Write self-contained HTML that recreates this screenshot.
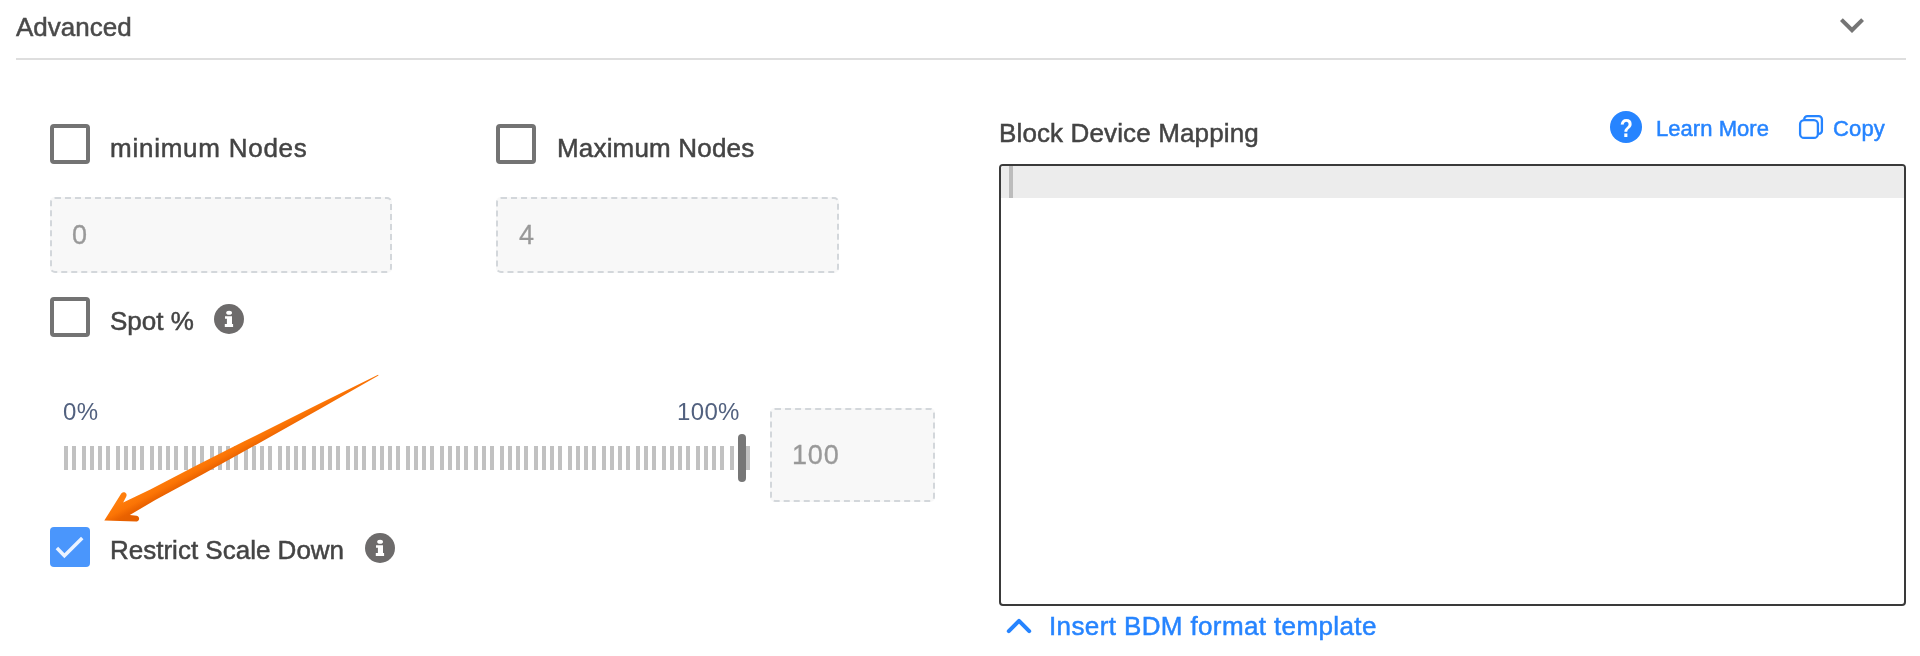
<!DOCTYPE html>
<html><head><meta charset="utf-8"><title>Advanced</title>
<style>
html,body{margin:0;padding:0;background:#fff;}
body{width:1920px;height:656px;position:relative;overflow:hidden;font-family:"Liberation Sans",sans-serif;color:#444;}
.t{position:absolute;white-space:nowrap;line-height:1;transform-origin:0 0;will-change:transform;}
.lbl{font-size:26px;color:#444;-webkit-text-stroke:0.5px #444;}
.cb{position:absolute;width:32px;height:32px;border:4px solid #737373;border-radius:4px;background:#fff;}
.inp{position:absolute;box-sizing:border-box;border:2px dashed #d3d7db;border-radius:5px;background:#f8f8f8;}
.num{font-size:27px;color:#999;-webkit-text-stroke:0.3px #999;}
.rng{font-size:24px;color:#52617f;}
.lnk{color:#2684ff;-webkit-text-stroke:0.5px #2684ff;}
svg{position:absolute;overflow:visible;}
</style></head><body>

<div class="t" id="t_adv" style="left:16px;top:14px;font-size:26px;color:#4a4a4a;-webkit-text-stroke:0.5px #4a4a4a;">Advanced</div>
<svg style="left:1828px;top:0.5px" width="48" height="48" viewBox="0 0 24 24"><path d="M16.59 8.59 12 13.17 7.41 8.59 6 10l6 6 6-6z" fill="#757575"/></svg>
<div style="position:absolute;left:16px;top:58px;width:1890px;height:2px;background:#dedede;"></div>

<div class="cb" style="left:50px;top:124px;"></div>
<div class="t lbl" id="t_min" style="left:110px;top:135px;letter-spacing:0.75px;">minimum Nodes</div>
<div class="cb" style="left:496px;top:124px;"></div>
<div class="t lbl" id="t_max" style="left:557px;top:135px;letter-spacing:0.18px;">Maximum Nodes</div>

<div class="inp" style="left:50px;top:197px;width:342px;height:76px;"></div>
<div class="t num" id="t_n0" style="left:72px;top:221.600px;">0</div>
<div class="inp" style="left:496px;top:197px;width:343px;height:76px;"></div>
<div class="t num" id="t_n4" style="left:519px;top:221.700px;">4</div>

<div class="cb" style="left:50px;top:297px;"></div>
<div class="t lbl" id="t_spot" style="left:110px;top:308px;">Spot %</div>
<svg style="left:214px;top:304px" width="30" height="30" viewBox="0 0 30 30"><circle cx="15" cy="15" r="15" fill="#6d6b6b"/><ellipse cx="15.1" cy="8.7" rx="2.900" ry="2" fill="#fff"/><path d="M11 12.200H18V19.900H19.100V23.100H10.800V19.900H12.900V14.800H11z" fill="#fff"/></svg>

<div class="t rng" id="t_r0" style="left:62.500px;top:400px;letter-spacing:0.3px;">0%</div>
<div class="t rng" id="t_r100" style="left:677px;top:400px;letter-spacing:0.35px;">100%</div>
<svg style="left:64px;top:446px" width="690" height="24" fill="#c1c1c1"><rect x="0" y="0" width="4" height="24"/><rect x="8" y="0" width="4" height="24"/><rect x="18" y="0" width="4" height="24"/><rect x="26" y="0" width="4" height="24"/><rect x="34" y="0" width="4" height="24"/><rect x="42" y="0" width="4" height="24"/><rect x="52" y="0" width="4" height="24"/><rect x="60" y="0" width="4" height="24"/><rect x="68" y="0" width="4" height="24"/><rect x="76" y="0" width="4" height="24"/><rect x="86" y="0" width="4" height="24"/><rect x="94" y="0" width="4" height="24"/><rect x="102" y="0" width="4" height="24"/><rect x="110" y="0" width="4" height="24"/><rect x="120" y="0" width="4" height="24"/><rect x="128" y="0" width="4" height="24"/><rect x="136" y="0" width="4" height="24"/><rect x="146" y="0" width="4" height="24"/><rect x="154" y="0" width="4" height="24"/><rect x="162" y="0" width="4" height="24"/><rect x="170" y="0" width="4" height="24"/><rect x="180" y="0" width="4" height="24"/><rect x="188" y="0" width="4" height="24"/><rect x="196" y="0" width="4" height="24"/><rect x="204" y="0" width="4" height="24"/><rect x="214" y="0" width="4" height="24"/><rect x="222" y="0" width="4" height="24"/><rect x="230" y="0" width="4" height="24"/><rect x="238" y="0" width="4" height="24"/><rect x="248" y="0" width="4" height="24"/><rect x="256" y="0" width="4" height="24"/><rect x="264" y="0" width="4" height="24"/><rect x="272" y="0" width="4" height="24"/><rect x="282" y="0" width="4" height="24"/><rect x="290" y="0" width="4" height="24"/><rect x="298" y="0" width="4" height="24"/><rect x="308" y="0" width="4" height="24"/><rect x="316" y="0" width="4" height="24"/><rect x="324" y="0" width="4" height="24"/><rect x="332" y="0" width="4" height="24"/><rect x="342" y="0" width="4" height="24"/><rect x="350" y="0" width="4" height="24"/><rect x="358" y="0" width="4" height="24"/><rect x="366" y="0" width="4" height="24"/><rect x="376" y="0" width="4" height="24"/><rect x="384" y="0" width="4" height="24"/><rect x="392" y="0" width="4" height="24"/><rect x="400" y="0" width="4" height="24"/><rect x="410" y="0" width="4" height="24"/><rect x="418" y="0" width="4" height="24"/><rect x="426" y="0" width="4" height="24"/><rect x="436" y="0" width="4" height="24"/><rect x="444" y="0" width="4" height="24"/><rect x="452" y="0" width="4" height="24"/><rect x="460" y="0" width="4" height="24"/><rect x="470" y="0" width="4" height="24"/><rect x="478" y="0" width="4" height="24"/><rect x="486" y="0" width="4" height="24"/><rect x="494" y="0" width="4" height="24"/><rect x="504" y="0" width="4" height="24"/><rect x="512" y="0" width="4" height="24"/><rect x="520" y="0" width="4" height="24"/><rect x="528" y="0" width="4" height="24"/><rect x="538" y="0" width="4" height="24"/><rect x="546" y="0" width="4" height="24"/><rect x="554" y="0" width="4" height="24"/><rect x="562" y="0" width="4" height="24"/><rect x="572" y="0" width="4" height="24"/><rect x="580" y="0" width="4" height="24"/><rect x="588" y="0" width="4" height="24"/><rect x="598" y="0" width="4" height="24"/><rect x="606" y="0" width="4" height="24"/><rect x="614" y="0" width="4" height="24"/><rect x="622" y="0" width="4" height="24"/><rect x="632" y="0" width="4" height="24"/><rect x="640" y="0" width="4" height="24"/><rect x="648" y="0" width="4" height="24"/><rect x="656" y="0" width="4" height="24"/><rect x="666" y="0" width="4" height="24"/><rect x="674" y="0" width="4" height="24"/><rect x="682" y="0" width="4" height="24"/></svg>
<div style="position:absolute;left:738px;top:434px;width:8px;height:48px;border-radius:4px;background:#777;"></div>
<div class="inp" style="left:770px;top:408px;width:165px;height:94px;"></div>
<div class="t num" id="t_n100" style="left:791.5px;top:441.600px;letter-spacing:0.8px;">100</div>

<div style="position:absolute;left:50px;top:527px;width:40px;height:40px;border-radius:4px;background:#4a96fc;"></div>
<svg style="left:50px;top:527px" width="40" height="40" viewBox="0 0 40 40"><path d="M6.900 21 14.400 28.800 32.250 10.900" fill="none" stroke="#ebf3ff" stroke-width="3.500"/></svg>
<div class="t lbl" id="t_rsd" style="left:110px;top:537px;">Restrict Scale Down</div>
<svg style="left:365px;top:533px" width="30" height="30" viewBox="0 0 30 30"><circle cx="15" cy="15" r="15" fill="#6d6b6b"/><ellipse cx="15.1" cy="8.7" rx="2.900" ry="2" fill="#fff"/><path d="M11 12.200H18V19.900H19.100V23.100H10.800V19.900H12.900V14.800H11z" fill="#fff"/></svg>

<svg style="left:0;top:0" width="1920" height="656"><defs><linearGradient id="ag" gradientUnits="userSpaceOnUse" x1="241.6" y1="437.5" x2="250.0" y2="453.4"><stop offset="0" stop-color="#ff7e0c"/><stop offset="0.45" stop-color="#fb7405"/><stop offset="0.8" stop-color="#ea6200"/><stop offset="1" stop-color="#e66000"/></linearGradient></defs><path d="M378.11 374.85 L318.84 403.96 L243.72 441.59 L197.33 465.11 L150.32 489.59 L123.19 502.45 L126.28 496.43 L126.56 495.59 L126.58 494.71 L126.33 493.86 L125.83 493.13 L125.14 492.58 L124.32 492.27 L123.43 492.21 L122.58 492.43 L121.83 492.89 L121.25 493.56 L104.30 520.50 L136.11 521.59 L136.99 521.48 L137.79 521.12 L138.45 520.53 L138.90 519.77 L139.10 518.91 L139.04 518.03 L138.71 517.21 L138.15 516.53 L137.41 516.05 L136.56 515.81 L129.84 514.99 L155.71 499.75 L202.35 474.56 L247.84 449.36 L321.14 408.29 L378.49 375.55 Z" fill="url(#ag)"/></svg>

<div class="t lbl" id="t_bdm" style="left:999px;top:120px;letter-spacing:0.13px;">Block Device Mapping</div>
<svg style="left:1610px;top:111px" width="32" height="32" viewBox="0 0 32 32"><circle cx="16" cy="16" r="16" fill="#2684ff"/><text x="16.300" y="25.600" text-anchor="middle" transform="translate(16.300 0) scale(0.84 1) translate(-16.300 0)" font-family="Liberation Sans,sans-serif" font-weight="bold" font-size="25.500" fill="#fff">?</text></svg>
<div class="t lnk" id="t_learn" style="left:1656px;letter-spacing:0.05px;top:117.5px;font-size:22px;">Learn More</div>
<svg style="left:1798px;top:114px" width="26" height="26" viewBox="0 0 26 26" fill="none" stroke="#2684ff" stroke-width="2.300"><path d="M6.200 5.600v-.300a3.200 3.200 0 0 1 3.200-3.200h11.300a3.200 3.200 0 0 1 3.200 3.200v11.400a3.200 3.200 0 0 1-3.200 3.200h-.300"/><rect x="2.100" y="6.100" width="17.800" height="17.800" rx="4"/></svg>
<div class="t lnk" id="t_copy" style="left:1833px;letter-spacing:0.15px;top:117.5px;font-size:22px;">Copy</div>

<div style="position:absolute;box-sizing:border-box;left:999px;top:164px;width:907px;height:442px;border:2px solid #3a3a3a;border-radius:4px;background:#fff;overflow:hidden;">
<div style="position:absolute;left:0;top:0;right:0;height:32px;background:#ececec;"></div>
<div style="position:absolute;left:8px;top:0;width:4px;height:32px;background:#bcbcbc;"></div>
</div>

<svg style="left:1004px;top:614px" width="30" height="24" viewBox="0 0 30 24"><path d="M4.800 17.200 15 6.900 25.200 17.200" fill="none" stroke="#2684ff" stroke-width="4" stroke-linecap="round" stroke-linejoin="round"/></svg>
<div class="t lnk" id="t_ins" style="left:1049px;top:613px;font-size:26px;letter-spacing:0.38px;">Insert BDM format template</div>

</body></html>
